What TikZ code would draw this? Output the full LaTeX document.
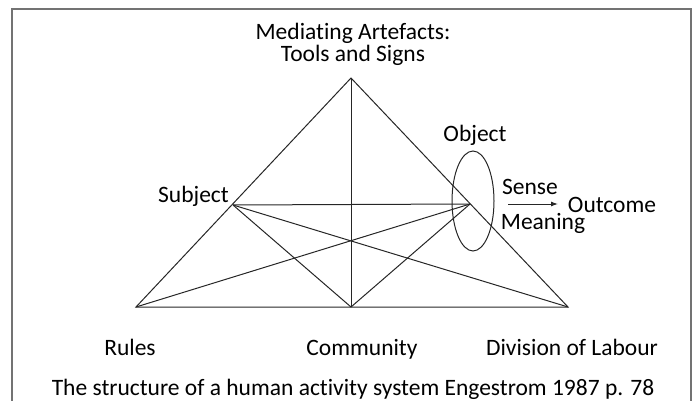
\documentclass[tikz,border=0pt]{standalone}
\usepackage{fontspec}
\setmainfont{Carlito}[Ligatures=NoCommon]
\usetikzlibrary{arrows.meta}
\tikzset{
  edge/.style={line width=1pt, draw=black!85},
  lbl/.style={font=\fontsize{23.5}{22}\selectfont, inner sep=0pt, anchor=base}
}
\begin{document}
\begin{tikzpicture}[x=1pt, y=-1pt]
\useasboundingbox (0,0) rectangle (696,401);
\draw [black!55, line width=1.5pt] (12,405) -- (12,9) -- (691,9) -- (691,405);

\path (351, 78) coordinate (tools);
\path (233,205) coordinate (subj);
\path (470,204) coordinate (obj);
\path (136,307) coordinate (rules);
\path (351,307) coordinate (comm);
\path (568,307) coordinate (divl);

% triangle and inner lines
\draw [edge] (rules) -- (tools) -- (divl) -- cycle;
\draw [edge] (tools) -- (comm);
\draw [edge] (subj) -- (obj);
\draw [edge] (subj) -- (comm);
\draw [edge] (subj) -- (divl);
\draw [edge] (obj) -- (rules);
\draw [edge] (obj) -- (comm);

\draw [edge] (473,201) ellipse [x radius=21, y radius=50];
\path (508,204) coordinate (arrs);
\path (558,204) coordinate (arre);
\draw [edge, -{Latex[length=7pt, width=5pt]}] (arrs) -- (arre);

\node [lbl] (medl) at (353,40) {Mediating Artefacts:};
\node [lbl] (tooll) at (353,62) {Tools and Signs};
\node [lbl, anchor=base east] (subjl) at (229,202) {Subject};
\node [lbl] (objl) at (475,142) {Object};
\node [lbl] (sensel) at (530,194) {Sense};
\node [lbl] (meanl) at (543,229) {Meaning};
\node [lbl] (outl) at (612,212) {Outcome};
\node [lbl] (rulesl) at (130,355) {Rules};
\node [lbl] (comml) at (362,355) {Community};
\node [lbl] (divll) at (572,355) {Division of Labour};
\node [lbl] (capl) at (353,395) {The structure of a human activity system Engestrom 1987 p. 78};
\end{tikzpicture}
\end{document}
